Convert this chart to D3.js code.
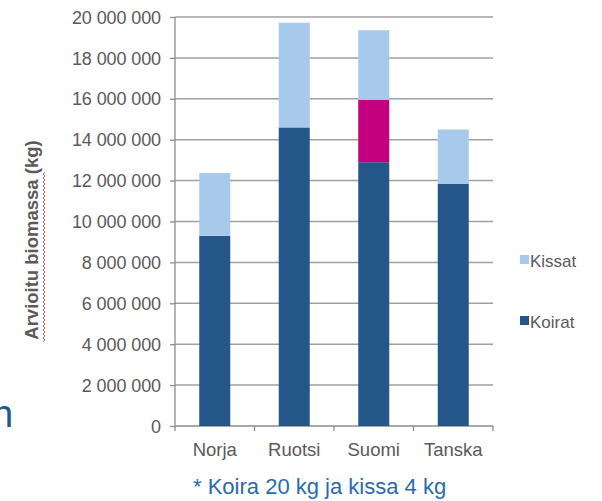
<!DOCTYPE html>
<html><head><meta charset="utf-8">
<script src="https://cdn.jsdelivr.net/npm/d3@7"></script>
<style>body{margin:0;background:#fff;}svg{display:block;font-family:"Liberation Sans",Arial,sans-serif;}</style>
</head><body>
<script>
const categories = ["Norja","Ruotsi","Suomi","Tanska"];
const koirat = [9300000, 14600000, 12900000, 11850000];
const highlight = [0, 0, 3050000, 0];
const kissat = [3070000, 5120000, 3400000, 2650000];
const yTicks = [0,2000000,4000000,6000000,8000000,10000000,12000000,14000000,16000000,18000000,20000000];
const legendItems = [{name:"Kissat", color:"#A7C9EB"},{name:"Koirat", color:"#24568A"}];
const colors = {koirat:"#24568A", highlight:"#C5007F", kissat:"#A7C9EB"};

const W=602,H=501;
const svg=d3.select("body").append("svg").attr("width",W).attr("height",H);
const x0=175,x1=493,yTop=17,yBot=426;
const x=d3.scaleBand().domain(categories).range([x0,x1]).paddingInner(0.61).paddingOuter(0.305);
const y=d3.scaleLinear().domain([0,20000000]).range([yBot,yTop]);

// gridlines
svg.append("g").selectAll("line").data(yTicks.filter(d=>d>0)).join("line")
 .attr("x1",x0).attr("x2",x1).attr("y1",d=>y(d)).attr("y2",d=>y(d))
 .attr("stroke","#a0a0a0").attr("stroke-width",1.5);

// y axis
const ya=svg.append("g").attr("transform",`translate(${x0},0)`)
 .call(d3.axisLeft(y).tickValues(yTicks).tickSize(5).tickPadding(9).tickFormat(d=>d3.format(",")(d).replace(/,/g," ")));
ya.select(".domain").attr("stroke","#8c8c8c").attr("stroke-width",1.3).attr("d",`M0,${yTop}V${yBot}`);
ya.selectAll(".tick line").attr("stroke","#8c8c8c").attr("stroke-width",1.3);
ya.selectAll("text").attr("fill","#5a5a5a").style("font-size","18px").style("letter-spacing","-0.1px").attr("dy","0.34em");

// x axis
const xa=svg.append("g").attr("transform",`translate(0,${yBot})`)
 .call(d3.axisBottom(x).tickSize(0).tickPadding(17));
xa.select(".domain").attr("stroke","#8c8c8c").attr("stroke-width",1.3).attr("d",`M${x0},0H${x1}`);
xa.selectAll("text").attr("fill","#5a5a5a").style("font-size","18.5px");
// x tick marks at band boundaries
const bounds=[0,1,2,3,4].map(i=>x0+i*(x1-x0)/4);
svg.append("g").selectAll("line").data(bounds).join("line")
 .attr("x1",d=>d).attr("x2",d=>d).attr("y1",yBot).attr("y2",yBot+5).attr("stroke","#8c8c8c").attr("stroke-width",1.3);

// stacked bars
const rows=categories.map((c,i)=>({cat:c,koirat:koirat[i],highlight:highlight[i],kissat:kissat[i]}));
const stack=d3.stack().keys(["koirat","highlight","kissat"])(rows);
svg.append("g").selectAll("g").data(stack).join("g").attr("fill",d=>colors[d.key])
 .selectAll("rect").data(d=>d.filter(s=>s[1]>s[0])).join("rect")
 .attr("x",d=>x(d.data.cat)).attr("width",x.bandwidth())
 .attr("y",d=>y(d[1])).attr("height",d=>y(d[0])-y(d[1]));

// legend
const lg=svg.append("g");
const ly=[267,328];
legendItems.forEach((it,i)=>{
  lg.append("rect").attr("x",520).attr("y",ly[i]-12).attr("width",9).attr("height",9).attr("fill",it.color);
  lg.append("text").attr("x",530).attr("y",ly[i]).text(it.name).attr("fill","#5a5a5a").style("font-size","17px");
});

// y title
const yt=svg.append("g").attr("transform","translate(38,240) rotate(-90)");
yt.append("text").attr("text-anchor","middle").text("Arvioitu biomassa (kg)")
 .attr("fill","#5a5a5a").style("font-size","18.5px").style("font-weight","bold");
// spell-check wavy underline under "Arvioitu biomassa"
let p="M-102,5";
for(let k=0;k<85;k++){p+=`l2,${k%2?-2:2}`;}
yt.append("path").attr("d",p).attr("fill","none").attr("stroke","#ff5050").attr("stroke-width",1);

// footnote
svg.append("text").attr("x",193).attr("y",494).text("* Koira 20 kg ja kissa 4 kg")
 .attr("fill","#2A6AAE").style("font-size","22px");

// clipped slide text at left edge
svg.append("text").attr("x",-8).attr("y",427).text("n").attr("fill","#24568A").style("font-size","38px");
svg.append("text").attr("x",-3).attr("y",372).text("'").attr("fill","#9ab8d8").style("font-size","14px");
</script>
</body></html>
